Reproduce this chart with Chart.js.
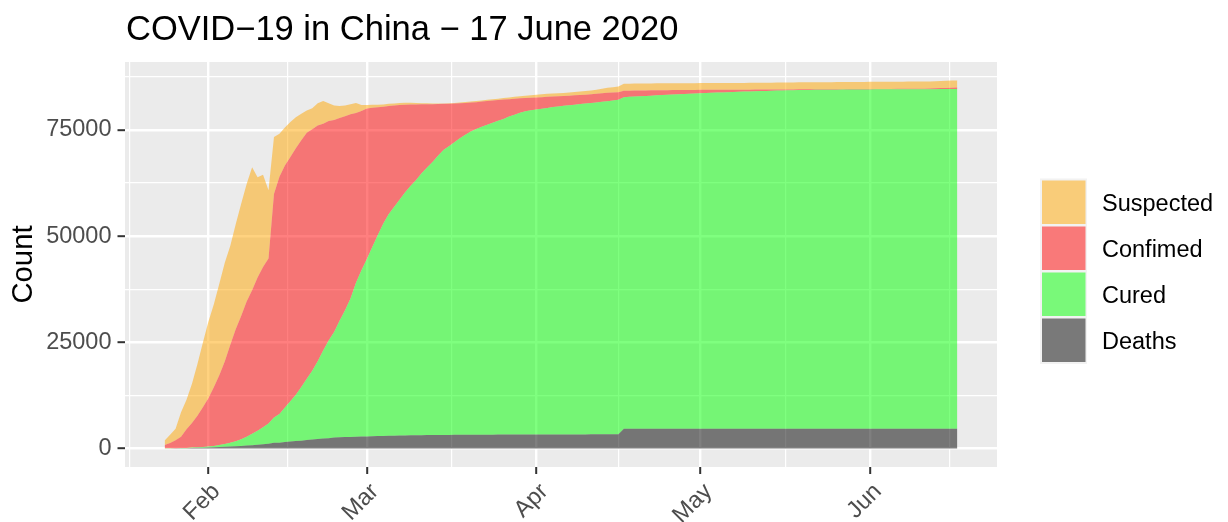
<!DOCTYPE html>
<html>
<head>
<meta charset="utf-8">
<title>COVID-19 in China</title>
<script src="https://cdn.jsdelivr.net/npm/chart.js@4"></script>
<style>
    html, body { margin: 0; padding: 0; background: #ffffff; }
    #chart { display: block; }
</style>
</head>
<body>
<canvas id="chart" width="1228" height="522"></canvas>
<script>
// daily values, 24 Jan 2020 .. 17 Jun 2020 (one per day)
const firstDay = "2020-01-24";

const confirmed = [
    835, 1295, 1985, 2758, 4532, 5992, 7731, 9717,
    11821, 14413, 17240, 20478, 24369, 28068, 31216, 34606, 37262, 40237, 42708, 44728, 59884, 63936, 66582,
    68595, 70648, 72541, 74293, 75112, 76006, 76408, 77061, 77277, 77788, 78196, 78632, 78962, 79391,
    79969, 80174, 80301, 80425, 80567, 80712, 80814, 80863, 80910, 80934, 80968, 80993, 81023, 81049, 81084,
    81115, 81161, 81204, 81288, 81387, 81488, 81614, 81733, 81871, 81978, 82085, 82190, 82304, 82389, 82460, 82538,
    82604, 82669, 82740, 82799, 82869, 82948, 83000, 83092, 83185, 83252, 83323, 83442, 83570, 83679, 83735,
    83798, 84157, 84189, 84210, 84227, 84243, 84278, 84293, 84302, 84316, 84329, 84334, 84342, 84366, 84372,
    84386, 84388, 84391, 84395, 84397, 84400, 84403, 84406, 84409, 84425, 84444, 84447, 84456, 84461, 84467,
    84477, 84485, 84494, 84502, 84509, 84513, 84519, 84521, 84526, 84539, 84548, 84551, 84555, 84557, 84563, 84567,
    84585, 84592, 84594, 84601, 84608, 84618, 84626, 84633, 84640, 84655, 84666, 84681, 84742, 84793, 84836, 84883, 84913
];

const cured = [
    34, 38, 49, 51, 60, 103, 124, 171,
    245, 331, 480, 640, 902, 1165, 1555, 2068, 2670, 3305, 4023, 4770, 5945, 6760, 8136,
    9462, 10890, 12601, 14428, 16210, 18322, 20720, 22952, 24802, 27395, 29820, 32573, 36198, 39086,
    41712, 44552, 47297, 49952, 52145, 53830, 55512, 57177, 58716, 60017, 61600, 62922, 64245, 65680, 67055,
    67898, 68834, 69761, 70585, 71320, 71915, 72425, 72890, 73352, 73850, 74260, 74805, 75195, 75680, 76030, 76300,
    76440, 76620, 76800, 77000, 77150, 77290, 77420, 77560, 77700, 77820, 77950, 78080, 78220, 78360, 78520,
    78680, 78030, 78100, 78170, 78240, 78310, 78380, 78450, 78520, 78590, 78660, 78720, 78780, 78840, 78880,
    78920, 78980, 79040, 79090, 79140, 79190, 79240, 79290, 79340, 79380, 79420, 79460, 79500, 79530, 79560,
    79590, 79620, 79650, 79680, 79700, 79720, 79740, 79760, 79770, 79780, 79790, 79800, 79810, 79820, 79830, 79840,
    79845, 79850, 79855, 79860, 79865, 79870, 79875, 79880, 79885, 79890, 79895, 79900, 79905, 79910, 79915, 79920, 79925
];

const deaths = [
    25, 41, 56, 80, 106, 132, 170, 213,
    259, 304, 361, 425, 491, 564, 637, 723, 812, 909, 1017, 1114, 1368, 1381, 1524,
    1666, 1772, 1870, 2006, 2121, 2239, 2348, 2445, 2595, 2666, 2718, 2747, 2791, 2838,
    2873, 2915, 2946, 2984, 3015, 3045, 3073, 3100, 3123, 3140, 3162, 3173, 3180, 3194, 3204,
    3218, 3231, 3242, 3250, 3253, 3261, 3267, 3276, 3283, 3287, 3293, 3298, 3301, 3306, 3310, 3311,
    3318, 3324, 3328, 3332, 3335, 3337, 3337, 3339, 3341, 3342, 3345, 3345, 3347, 3347, 3348,
    3348, 4638, 4638, 4638, 4638, 4639, 4639, 4639, 4639, 4639, 4639, 4639, 4639, 4640, 4640,
    4640, 4640, 4640, 4640, 4640, 4640, 4640, 4640, 4640, 4640, 4641, 4641, 4641, 4641, 4641,
    4641, 4641, 4641, 4641, 4641, 4642, 4642, 4642, 4642, 4642, 4642, 4642, 4642, 4642, 4642, 4642,
    4645, 4645, 4645, 4645, 4645, 4645, 4645, 4645, 4645, 4645, 4645, 4645, 4645, 4645, 4645, 4645, 4645
];

const suspected = [
    1072, 1965, 2684, 5794, 6973, 9239, 12167, 15238,
    17988, 19544, 21558, 23214, 23260, 24702, 26359, 27657, 28942, 23589, 21675, 16067, 13435, 10109, 8969,
    8228, 7264, 6242, 5248, 4922, 5206, 5365, 4148, 3434, 2824, 2491, 2358, 2308, 1418,
    851, 715, 587, 520, 522, 482, 502, 458, 421, 349, 285, 253, 147, 115, 113,
    140, 150, 180, 210, 240, 260, 280, 300, 320, 340, 370, 400, 430, 470, 520, 580,
    650, 680, 700, 700, 710, 720, 740, 780, 800, 850, 900, 980, 1080, 1180, 1260,
    1350, 1650, 1640, 1640, 1630, 1630, 1620, 1620, 1610, 1610, 1600, 1600, 1590, 1590, 1580,
    1580, 1580, 1585, 1590, 1590, 1595, 1600, 1600, 1605, 1610, 1610, 1615, 1620, 1620, 1625,
    1630, 1630, 1635, 1640, 1640, 1645, 1650, 1650, 1655, 1660, 1660, 1665, 1670, 1670, 1675, 1680,
    1680, 1680, 1685, 1685, 1690, 1690, 1690, 1690, 1690, 1690, 1690, 1690, 1690, 1690, 1690, 1690, 1690
];

const monthStarts = ["2020-02-01", "2020-03-01", "2020-04-01", "2020-05-01", "2020-06-01"];
const monthLabels = ["Feb", "Mar", "Apr", "May", "Jun"];
const yTicks = [0, 25000, 50000, 75000];

const legendNames = ["Suspected", "Confimed", "Cured", "Deaths"];
const legendColors = ["rgba(255,165,0,0.5)", "rgba(255,0,0,0.5)", "rgba(0,255,0,0.5)", "rgba(0,0,0,0.5)"];

const titleText = "COVID\u221219 in China \u2212 17 June 2020";
const FONT = "'Liberation Sans', Arial, Helvetica, sans-serif";


function dayNum(iso) {
    return (Date.parse(iso + "T00:00:00Z") - Date.parse("2020-02-01T00:00:00Z")) / 864e5;
}

// ggplot style minor breaks: midpoints, with one extra break on each side
function minorBreaks(major, lo, hi) {
    const step = major[1] - major[0];
    const b = major.slice();
    if (lo < b[0]) b.unshift(b[0] - step);
    if (hi > b[b.length - 1]) b.push(b[b.length - 1] + step);
    const out = [];
    for (let i = 0; i < b.length - 1; i++) out.push((b[i] + b[i + 1]) / 2);
    return out.filter(v => v >= lo && v <= hi);
}

function buildChart() {
    const x0 = dayNum(firstDay);
    const xs = confirmed.map((_, i) => x0 + i);
    const active = confirmed.map((c, i) => c - cured[i] - deaths[i]);
    const totals = confirmed.map((c, i) => c + suspected[i]);

    const xLo = xs[0], xHi = xs[xs.length - 1];
    const xPad = (xHi - xLo) * 0.05;
    const xMin = xLo - xPad, xMax = xHi + xPad;
    const yTop = Math.max(...totals);
    const yMin = -yTop * 0.05, yMax = yTop * 1.05;

    const xMajor = monthStarts.map(dayNum);
    const xMinor = minorBreaks(xMajor, xMin, xMax);
    const yMinor = minorBreaks(yTicks, yMin, yMax);

    const series = [
        { values: deaths, color: legendColors[3] },
        { values: cured, color: legendColors[2] },
        { values: active, color: legendColors[1] },
        { values: suspected, color: legendColors[0] },
    ];

    const datasets = series.map((s, k) => ({
        data: s.values.map((v, i) => ({ x: xs[i], y: v })),
        backgroundColor: s.color,
        borderWidth: 0,
        pointRadius: 0,
        tension: 0,
        fill: k === 0 ? "origin" : "-1",
    }));

    const panelBackground = {
        id: "panelBackground",
        beforeDraw(chart) {
            const { ctx, chartArea: a } = chart;
            ctx.save();
            ctx.fillStyle = "#ebebeb";
            ctx.fillRect(a.left, a.top, a.right - a.left, a.bottom - a.top);
            ctx.restore();
        },
    };

    const titleAndLegend = {
        id: "titleAndLegend",
        afterDraw(chart) {
            const { ctx, chartArea: a } = chart;
            ctx.save();
            ctx.fillStyle = "#000000";
            ctx.font = "34.5px " + FONT;
            ctx.textAlign = "left";
            ctx.textBaseline = "alphabetic";
            ctx.fillText(titleText, a.left + 1, 40);

            const keyX = 1040, keyY = 178.5, pitch = 46;
            ctx.fillStyle = "#f2f2f2";
            ctx.fillRect(keyX, keyY, 47, pitch * legendNames.length + 1.5);
            ctx.font = "23.5px " + FONT;
            ctx.textBaseline = "middle";
            legendNames.forEach((name, i) => {
                const top = keyY + 2 + i * pitch;
                ctx.fillStyle = legendColors[i];
                ctx.fillRect(keyX + 2, top, 43.5, 43.5);
                ctx.fillStyle = "#000000";
                ctx.fillText(name, 1102, top + 24);
            });
            ctx.restore();
        },
    };

    const isMajorX = v => xMajor.includes(v);
    const isMajorY = v => yTicks.includes(v);

    new Chart(document.getElementById("chart"), {
        type: "line",
        data: { datasets },
        options: {
            responsive: false,
            animation: false,
            devicePixelRatio: 1,
            events: [],
            layout: { padding: { left: 0, top: 62, right: 231, bottom: 0 } },
            plugins: {
                legend: { display: false },
                title: { display: false },
                tooltip: { enabled: false },
            },
            scales: {
                x: {
                    type: "linear",
                    min: xMin,
                    max: xMax,
                    afterBuildTicks: scale => {
                        scale.ticks = xMinor.concat(xMajor).sort((a, b) => a - b).map(v => ({ value: v }));
                    },
                    afterFit: scale => { scale.height = 55; },
                    border: { display: false },
                    grid: {
                        color: "#ffffff",
                        lineWidth: c => (isMajorX(c.tick.value) ? 2.4 : 1.2),
                        tickLength: 7,
                        tickWidth: 2,
                        tickColor: c => (isMajorX(c.tick.value) ? "#333333" : "rgba(0,0,0,0)"),
                    },
                    ticks: {
                        autoSkip: false,
                        minRotation: 45,
                        maxRotation: 45,
                        padding: 4,
                        labelOffset: 8,
                        color: "#4d4d4d",
                        font: { family: FONT, size: 23.5 },
                        callback: v => {
                            const i = xMajor.indexOf(v);
                            return i >= 0 ? monthLabels[i] : "";
                        },
                    },
                },
                y: {
                    stacked: true,
                    min: yMin,
                    max: yMax,
                    afterBuildTicks: scale => {
                        scale.ticks = yMinor.concat(yTicks).sort((a, b) => a - b).map(v => ({ value: v }));
                    },
                    afterFit: scale => { scale.width = 125; },
                    border: { display: false },
                    grid: {
                        color: "#ffffff",
                        lineWidth: c => (isMajorY(c.tick.value) ? 2.4 : 1.2),
                        tickLength: 7.5,
                        tickWidth: 2,
                        tickColor: c => (isMajorY(c.tick.value) ? "#333333" : "rgba(0,0,0,0)"),
                    },
                    ticks: {
                        padding: 6,
                        color: "#4d4d4d",
                        font: { family: FONT, size: 23.5 },
                        callback: v => (isMajorY(v) ? String(v) : ""),
                    },
                    title: {
                        display: true,
                        text: "Count",
                        color: "#000000",
                        font: { family: FONT, size: 29.3 },
                        padding: { top: 6, bottom: 0 },
                    },
                },
            },
        },
        plugins: [panelBackground, titleAndLegend],
    });
}

document.addEventListener("DOMContentLoaded", () => {
    buildChart();
});
</script>
</body>
</html>
